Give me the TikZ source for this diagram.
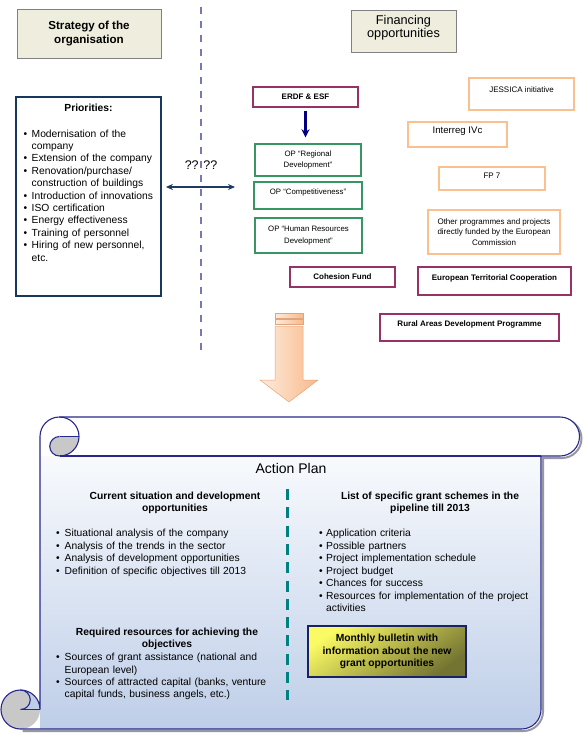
\documentclass[tikz,border=0pt]{standalone}
\usepackage{fontspec}
\setmainfont{Liberation Sans}
\usetikzlibrary{arrows.meta}
\definecolor{hdrfill}{RGB}{239,238,222}
\definecolor{hdrline}{RGB}{128,128,128}
\definecolor{navy}{RGB}{23,55,94}
\definecolor{arrnavy}{RGB}{0,0,128}
\definecolor{dblnavy}{RGB}{31,56,100}
\definecolor{sepc}{RGB}{120,120,180}
\definecolor{maroon}{RGB}{150,50,100}
\definecolor{grn}{RGB}{55,150,100}
\definecolor{orng}{RGB}{250,192,143}
\definecolor{scrl}{RGB}{40,40,140}
\definecolor{scrtop}{RGB}{248,250,253}
\definecolor{scrbot}{RGB}{190,206,232}
\definecolor{curl}{RGB}{200,200,200}
\definecolor{shad}{RGB}{150,150,165}
\definecolor{tealc}{RGB}{0,128,128}
\definecolor{arwl}{RGB}{253,236,222}
\definecolor{arwr}{RGB}{248,185,138}
\definecolor{arwd}{RGB}{225,165,125}
\definecolor{bulA}{RGB}{250,250,100}
\definecolor{bulB}{RGB}{205,205,80}
\definecolor{bulC}{RGB}{115,115,50}
\definecolor{bulline}{RGB}{25,35,100}
\newlength\bind
\newcommand\fs[2]{\fontsize{#1}{#2}\selectfont}
\newcommand\bl[1]{\noindent\makebox[\bind][l]{\textbullet}#1\par}
\newcommand\cl[1]{\noindent\hspace*{\bind}#1\par}
\begin{document}
\begin{tikzpicture}[x=1pt,y=1pt,
  hdr/.style={draw=hdrline, fill=hdrfill, line width=1pt, inner sep=0pt},
  prbox/.style={draw=navy, line width=1.8pt, inner sep=0pt},
  mbox/.style={draw=maroon, line width=1.4pt, inner sep=0pt, font=\bfseries\fs{8}{10}},
  gbox/.style={draw=grn, line width=1.4pt, inner sep=0pt, font=\fs{7.8}{11.5}, align=center},
  obox/.style={draw=orng, line width=1.4pt, inner sep=0pt, font=\fs{8}{10.6}, align=center},
  listtxt/.style={anchor=north west, inner sep=0pt, text width=240pt, font=\fs{10.3}{12.4}},
  headtxt/.style={inner sep=0pt, align=center, font=\bfseries\fs{10.3}{12.2}},
  navyarrow/.style={draw=arrnavy, line width=2.2pt, -{Stealth[length=8pt,width=8pt]}},
  dblarrow/.style={draw=dblnavy, line width=1.6pt, {Stealth[length=7pt,width=6pt]}-{Stealth[length=7pt,width=6pt]}},
  scrline/.style={draw=scrl, line width=1.1pt},
  arrowfill/.style={left color=arwl, right color=arwr, draw=arwd, line width=0.5pt}
]
\useasboundingbox (0,0) rectangle (582,-739);
\fill[white] (0,0) rectangle (582,-739);

% headers
\node[hdr, minimum width=144pt, minimum height=49pt, align=center, font=\bfseries\fs{11.6}{14}] (strat) at (89,-33.5) {Strategy of the\\organisation};
\node[hdr, minimum width=105pt, minimum height=42pt, align=center, font=\fs{12.7}{13.7}, text depth=9.5pt] (fin) at (403.5,-31) {Financing\\opportunities};

% separator
\coordinate (dtop) at (201,-7);
\coordinate (dbot) at (201,-355);
\draw[sepc, line width=1.6pt, dash pattern=on 7pt off 7pt] (dtop) -- (dbot);

% priorities
\node[prbox, minimum width=145pt, minimum height=199pt] (prio) at (88.5,-196.5) {};
\node[headtxt, anchor=base] (ptitle) at (88.5,-111) {Priorities:};
\node[listtxt] (plist) at (23.5,-129.5) {\setlength\bind{8pt}%
\bl{Modernisation of the}\cl{company}\bl{Extension of the company}%
\bl{Renovation/purchase/}\cl{construction of buildings}%
\bl{Introduction of innovations}\bl{ISO certification}%
\bl{Energy effectiveness}\bl{Training of personnel}%
\bl{Hiring of new personnel,}\cl{etc.}};

\node[font=\fs{12.5}{14}, inner sep=0pt, anchor=base] (qq) at (201,-169.5) {?? ??};
\coordinate (dr) at (235,-187);
\draw[dblarrow] ([xshift=4pt]prio.east |- dr) -- (dr);

% funds
\node[mbox, minimum width=105pt, minimum height=20pt] (erdf) at (305.5,-97) {ERDF \& ESF};
\node[gbox, minimum width=106pt, minimum height=32pt] (reg) at (308,-160) {OP “Regional\\Development”};
\node[gbox, minimum width=108pt, minimum height=27pt, text height=6pt, text depth=7.4pt] (comp) at (308,-195.5) {OP “Competitiveness”};
\node[gbox, minimum width=107pt, minimum height=35pt] (hr) at (308.5,-235.5) {OP “Human Resources\\Development”};
\draw[navyarrow] ([yshift=-3pt]erdf.south) -- ([yshift=6pt]erdf.south |- reg.north);

\node[obox, minimum width=105pt, minimum height=32pt, text height=6pt, text depth=8.4pt] (jes) at (521.5,-94) {JESSICA initiative};
\node[obox, minimum width=99pt, minimum height=25pt, font=\fs{9.6}{11}, text height=7pt, text depth=9.2pt] (intr) at (457.5,-134.5) {Interreg IVc};
\node[obox, minimum width=106pt, minimum height=23pt, text height=6pt, text depth=5.4pt] (fp) at (492,-178.5) {FP 7};
\node[obox, minimum width=132pt, minimum height=44pt] (oth) at (494,-232) {Other programmes and projects\\directly funded by the European\\Commission};

\node[mbox, minimum width=105pt, minimum height=20pt] (coh) at (342.5,-277) {Cohesion Fund};
\node[mbox, minimum width=153pt, minimum height=28pt, text height=6pt, text depth=6.4pt] (etc) at (494.5,-281) {European Territorial Cooperation};
\node[mbox, minimum width=179pt, minimum height=27pt, text height=6pt, text depth=7.4pt] (rural) at (469.5,-327.5) {Rural Areas Development Programme};

% big arrow
\shade[arrowfill] (275,-326) -- (303,-326) -- (303,-380) -- (318,-380) -- (289,-402) -- (260,-380) -- (275,-380) -- cycle;
\shade[arrowfill] (275,-313) rectangle (303,-318);
\shade[arrowfill] (275,-319.5) rectangle (303,-324.5);

% scroll: shadow
\draw[shad, line width=2pt, xshift=2pt, yshift=-2pt] (560,-417) arc (90:-90:19.5) -- (541,-456) -- (541,-709.5) arc (0:-90:19.5) -- (20.5,-729);
% body
\shade[top color=scrtop, bottom color=scrbot] (40,-456) -- (541,-456) -- (541,-709.5) arc (0:-90:19.5) -- (40,-729) -- cycle;
% roll
\fill[white] (40,-436.5) arc (180:90:19.5) -- (560,-417) arc (90:-90:19.5) -- (40,-456) -- cycle;
% bottom-left curl
\fill[curl] (20.5,-709.5) circle (19.5);
\fill[scrbot] (20.5,-709.5) -- (40,-709.5) arc (0:90:19.5) -- cycle;
\fill[curl] (20.5,-690) arc (90:-90:9.75) -- cycle;
% top-left curl grey
\fill[curl] (59.5,-436.5) -- (79,-436.5) arc (0:-90:19.5) arc (270:90:9.75) -- cycle;
% outlines
\draw[scrline] (40,-709.5) -- (40,-436.5) arc (180:90:19.5) -- (560,-417) arc (90:-90:19.5) -- (541,-456) -- (541,-709.5) arc (0:-90:19.5) -- (20.5,-729) arc (270:90:19.5) arc (90:0:19.5);
\draw[scrline] (59.5,-456) -- (541,-456);
\draw[scrline] (59.5,-417) arc (90:-90:19.5);
\draw[scrline] (59.5,-436.5) -- (79,-436.5);
\draw[scrline] (59.5,-456) arc (270:90:9.75);
\draw[scrline] (20.5,-709.5) -- (40,-709.5);
\draw[scrline] (20.5,-690) arc (90:-90:9.75);

% action plan content
\node[font=\fs{14}{16}, inner sep=0pt, anchor=base] (ap) at (291,-473) {Action Plan};
\coordinate (stop) at (287,-489);
\coordinate (sbot) at (287,-700);
\draw[tealc, line width=3pt, dash pattern=on 11pt off 7.3pt] (stop) -- (sbot);

\node[headtxt] (cur) at (175,-503) {Current situation and development\\opportunities};
\node[listtxt] (curl) at (56,-529.2) {\setlength\bind{8.5pt}%
\bl{Situational analysis of the company}\bl{Analysis of the trends in the sector}%
\bl{Analysis of development opportunities}\bl{Definition of specific objectives till 2013}};

\node[headtxt] (req) at (167,-639) {Required resources for achieving the\\objectives};
\node[listtxt, font=\fs{10.3}{12.2}] (reql) at (56,-653.2) {\setlength\bind{8.5pt}%
\bl{Sources of grant assistance (national and}\cl{European level)}%
\bl{Sources of attracted capital (banks, venture}\cl{capital funds, business angels, etc.)}};

\node[headtxt] (lst) at (430,-503) {List of specific grant schemes in the\\pipeline till 2013};
\node[listtxt, font=\fs{10.3}{12.5}] (lstl) at (319,-529.2) {\setlength\bind{7pt}%
\bl{Application criteria}\bl{Possible partners}\bl{Project implementation schedule}%
\bl{Project budget}\bl{Chances for success}%
\bl{Resources for implementation of the project}\cl{activities}};

\node[draw=bulline, line width=2pt, top color=bulA, middle color=bulB, bottom color=bulC, shading angle=35,
  minimum width=158pt, minimum height=51pt, inner sep=0pt, align=center, font=\bfseries\fs{10.3}{12.5}] (bul) at (387,-651.5)
  {Monthly bulletin with\\information about the new\\grant opportunities};
\end{tikzpicture}
\end{document}
